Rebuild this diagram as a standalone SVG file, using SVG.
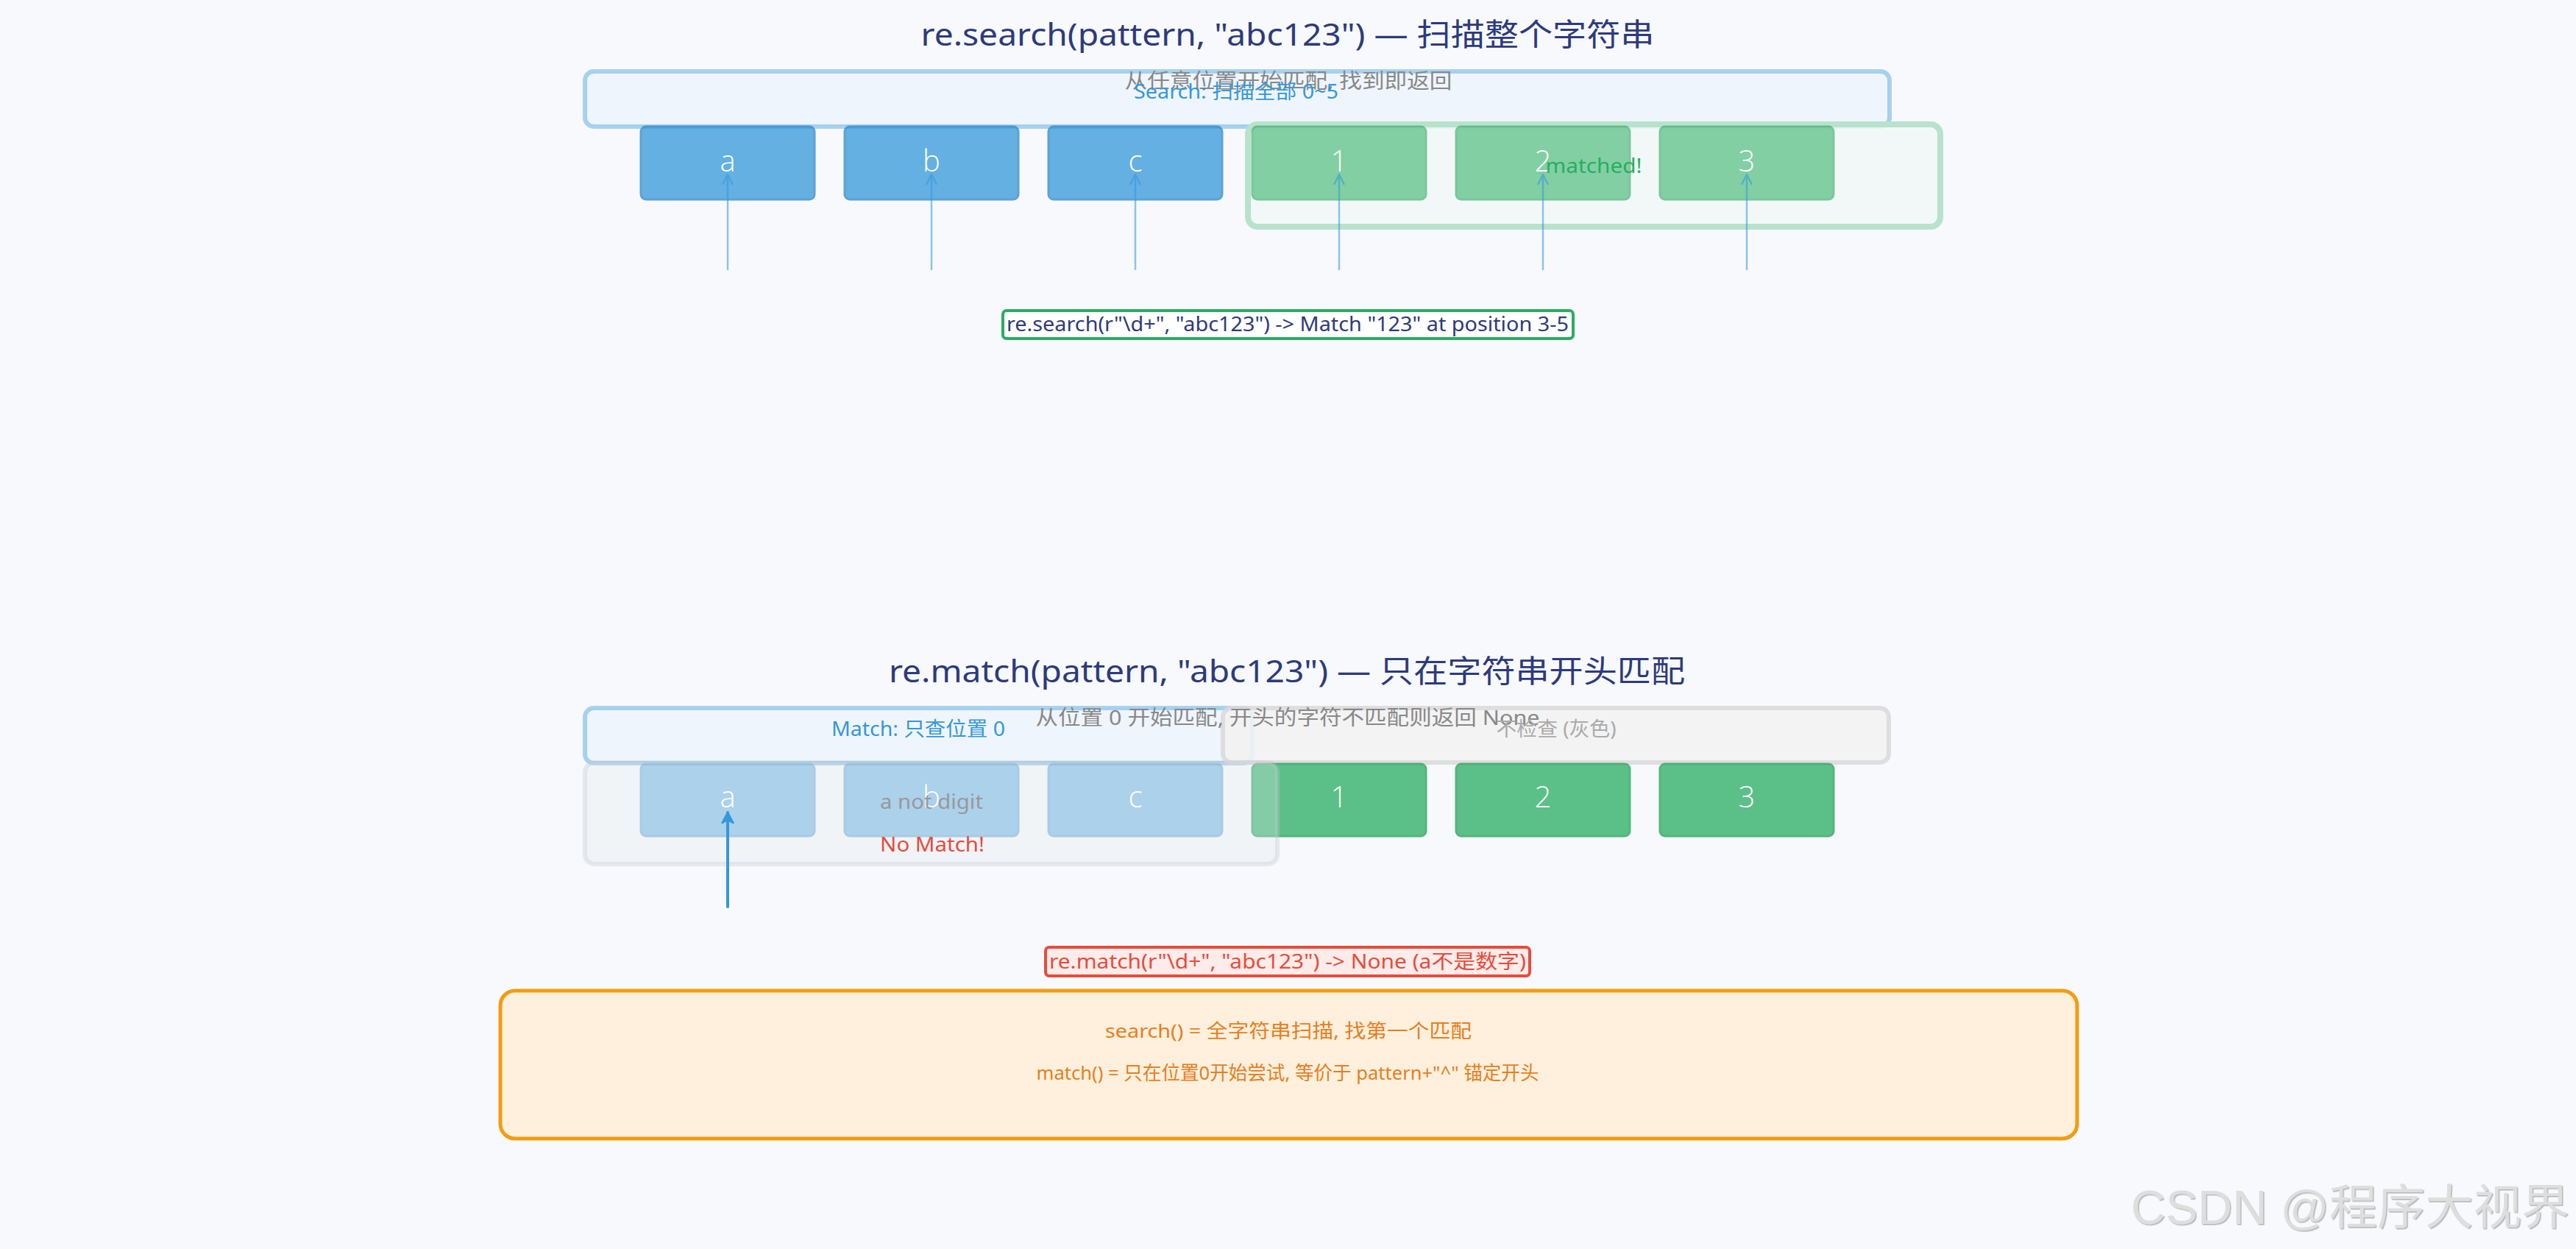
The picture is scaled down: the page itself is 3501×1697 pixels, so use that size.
<svg xmlns="http://www.w3.org/2000/svg" width="3501" height="1697" viewBox="0 0 3501 1697">
  <defs>
    <style>
      .t{font-family:"Noto Sans","Noto Sans CJK SC",sans-serif;text-anchor:middle}
      .title{font-size:42px;fill:#2d3a7c}
      .sub{font-size:28px;fill:#888888}
      .lbl-blue{font-size:27px;fill:#3498db}
      .lbl-gray{font-size:27px;fill:#aaaaaa}
      .ch{font-family:"Open Sans","Noto Sans",sans-serif;font-weight:300;font-size:40px;fill:#ffffff}
      .code{font-size:27px}
      .note{font-size:26px;fill:#e67e22}
      .band{fill:#eff5fc;stroke:#3498db;stroke-opacity:0.4;stroke-width:6}
      .cell{stroke-width:3}
      .cell-blue{fill:#3498db;stroke:#2a86c8}
      .cell-green{fill:#27ae60;stroke:#1f9d53}
    </style>
    <marker id="tip-light" markerUnits="userSpaceOnUse" markerWidth="30" markerHeight="30" viewBox="-15 -15 30 30" refX="0" refY="0" orient="auto">
      <path d="M-13,-6.5 L0,0 L-13,6.5" fill="none" stroke="#3498db" stroke-width="2.5" stroke-linecap="round" stroke-linejoin="round"/>
    </marker>
    <marker id="tip-solid" markerUnits="userSpaceOnUse" markerWidth="30" markerHeight="30" viewBox="-15 -15 30 30" refX="0" refY="0" orient="auto">
      <path d="M0,0 L-14,-7.5 L-10,0 L-14,7.5 Z" fill="#3498db" stroke="#3498db" stroke-width="2.5" stroke-linejoin="round"/>
    </marker>
    <filter id="emboss" x="-5%" y="-20%" width="110%" height="140%">
      <feDropShadow dx="1.5" dy="1.5" stdDeviation="0.6" flood-color="#9a9a9a" flood-opacity="0.7"/>
    </filter>
  </defs>

  <rect x="0" y="0" width="3501" height="1697" fill="#f7f9fc"/>

  <!-- ===== search() section ===== -->
  <g id="search-title">
    <text class="t title" x="1750" y="62" textLength="997" lengthAdjust="spacingAndGlyphs">re.search(pattern, "abc123")  — 扫描整个字符串</text>
  </g>

  <g id="search-band">
    <rect class="band" x="795" y="97" width="1773" height="75" rx="12"/>
  </g>

  <g id="matched-zone">
    <rect x="1696" y="169" width="941" height="139" rx="13" fill="#f1f8f6" fill-opacity="0.85" stroke="#b8e2cb" stroke-width="8"/>
  </g>

  <g id="search-cells">
    <g id="s-cell-a" opacity="0.75"><rect class="cell cell-blue" x="871" y="172" width="236" height="99" rx="7"/></g>
    <g id="s-cell-b" opacity="0.75"><rect class="cell cell-blue" x="1148" y="172" width="236" height="99" rx="7"/></g>
    <g id="s-cell-c" opacity="0.75"><rect class="cell cell-blue" x="1425" y="172" width="236" height="99" rx="7"/></g>
    <g id="s-cell-1" opacity="0.55"><rect class="cell cell-green" x="1702" y="172" width="236" height="99" rx="7"/></g>
    <g id="s-cell-2" opacity="0.55"><rect class="cell cell-green" x="1979" y="172" width="236" height="99" rx="7"/></g>
    <g id="s-cell-3" opacity="0.55"><rect class="cell cell-green" x="2256" y="172" width="236" height="99" rx="7"/></g>
    <text class="t ch" x="989" y="233">a</text>
    <text class="t ch" x="1266" y="233">b</text>
    <text class="t ch" x="1543" y="233">c</text>
    <text class="t ch" x="1820" y="233">1</text>
    <text class="t ch" x="2097" y="233">2</text>
    <text class="t ch" x="2374" y="233">3</text>
  </g>

  <g id="search-texts">
    <text class="t sub" x="1751" y="120" textLength="445" lengthAdjust="spacingAndGlyphs">从任意位置开始匹配, 找到即返回</text>
    <text class="t lbl-blue" x="1680" y="134" textLength="278" lengthAdjust="spacingAndGlyphs">Search: 扫描全部 0~5</text>
    <text class="t" x="2166" y="235" font-size="27" fill="#27ae60" textLength="131" lengthAdjust="spacingAndGlyphs">matched!</text>
  </g>

  <g id="search-result">
    <rect x="1363" y="422" width="775" height="38" rx="5" fill="#ffffff" stroke="#27ae60" stroke-width="4"/>
    <text class="t code" x="1750" y="450" fill="#2d3a7c" textLength="764" lengthAdjust="spacingAndGlyphs">re.search(r"\d+", "abc123")  -&gt;  Match "123" at position 3-5</text>
  </g>

  <!-- ===== match() section ===== -->
  <g id="match-title">
    <text class="t title" x="1749" y="927" textLength="1082" lengthAdjust="spacingAndGlyphs">re.match(pattern, "abc123")  — 只在字符串开头匹配</text>
  </g>

  <g id="match-band">
    <rect class="band" x="795" y="962" width="907" height="75" rx="12"/>
  </g>

  <g id="skip-band">
    <rect x="1662" y="962" width="905" height="74" rx="12" fill="#f2f2f2" fill-opacity="0.9" stroke="#d9d9d9" stroke-width="6" stroke-opacity="0.85"/>
  </g>

  <g id="match-cells">
    <g id="m-cell-a" opacity="0.5"><rect class="cell cell-blue" x="871" y="1038" width="236" height="98" rx="7"/></g>
    <g id="m-cell-b" opacity="0.5"><rect class="cell cell-blue" x="1148" y="1038" width="236" height="98" rx="7"/></g>
    <g id="m-cell-c" opacity="0.5"><rect class="cell cell-blue" x="1425" y="1038" width="236" height="98" rx="7"/></g>
    <g id="m-cell-1" opacity="0.75"><rect class="cell cell-green" x="1702" y="1038" width="236" height="98" rx="7"/></g>
    <g id="m-cell-2" opacity="0.75"><rect class="cell cell-green" x="1979" y="1038" width="236" height="98" rx="7"/></g>
    <g id="m-cell-3" opacity="0.75"><rect class="cell cell-green" x="2256" y="1038" width="236" height="98" rx="7"/></g>
  </g>

  <g id="no-match-zone">
    <rect x="795" y="1036" width="941" height="138" rx="13" fill="#e6e7ea" fill-opacity="0.3" stroke="#c4c8ce" stroke-opacity="0.35" stroke-width="6"/>
  </g>

  <g id="match-cell-text">
    <text class="t ch" x="989" y="1097">a</text>
    <text class="t ch" x="1266" y="1097">b</text>
    <text class="t ch" x="1543" y="1097">c</text>
    <text class="t ch" x="1820" y="1097">1</text>
    <text class="t ch" x="2097" y="1097">2</text>
    <text class="t ch" x="2374" y="1097">3</text>
  </g>

  <g id="match-texts">
    <text class="t sub" x="1750" y="985" textLength="685" lengthAdjust="spacingAndGlyphs">从位置 0 开始匹配, 开头的字符不匹配则返回 None</text>
    <text class="t lbl-blue" x="1248" y="1000" textLength="236" lengthAdjust="spacingAndGlyphs">Match: 只查位置 0</text>
    <text class="t lbl-gray" x="2115" y="1000" textLength="163" lengthAdjust="spacingAndGlyphs">不检查 (灰色)</text>
    <text class="t" x="1266" y="1099" font-size="28" fill="#999999" textLength="140" lengthAdjust="spacingAndGlyphs">a not digit</text>
    <text class="t" x="1267" y="1157" font-size="28" fill="#e74c3c" textLength="142" lengthAdjust="spacingAndGlyphs">No Match!</text>
  </g>

  <g id="match-result">
    <rect x="1421" y="1287" width="658" height="39" rx="5" fill="#fdecea" stroke="#e74c3c" stroke-width="4"/>
    <text class="t code" x="1750" y="1316" fill="#e74c3c" textLength="648" lengthAdjust="spacingAndGlyphs">re.match(r"\d+", "abc123")  -&gt;  None  (a不是数字)</text>
  </g>

  <g id="summary">
    <rect x="680" y="1346" width="2143" height="201" rx="20" fill="#fef0dc" stroke="#f39c12" stroke-width="5"/>
    <text class="t note" x="1751" y="1410" textLength="498" lengthAdjust="spacingAndGlyphs">search()  = 全字符串扫描, 找第一个匹配</text>
    <text class="t note" x="1750" y="1467" textLength="683" lengthAdjust="spacingAndGlyphs">match()  = 只在位置0开始尝试, 等价于 pattern+"^" 锚定开头</text>
  </g>

  <!-- ===== pointers ===== -->
  <g id="connectors">
    <g opacity="0.55" stroke="#3498db" stroke-width="2.5" fill="none">
      <path d="M989,367 L989,237" marker-end="url(#tip-light)"/>
      <path d="M1266,367 L1266,237" marker-end="url(#tip-light)"/>
      <path d="M1543,367 L1543,237" marker-end="url(#tip-light)"/>
      <path d="M1820,367 L1820,237" marker-end="url(#tip-light)"/>
      <path d="M2097,367 L2097,237" marker-end="url(#tip-light)"/>
      <path d="M2374,367 L2374,237" marker-end="url(#tip-light)"/>
    </g>
    <path d="M989,1232 L989,1104" stroke="#3498db" stroke-width="4" stroke-linecap="round" fill="none" marker-end="url(#tip-solid)"/>
  </g>

  <g id="watermark">
    <text x="2896" y="1663" font-family="'Liberation Sans','Noto Sans CJK SC',sans-serif" font-size="65" fill="#dedede" filter="url(#emboss)" textLength="596" lengthAdjust="spacingAndGlyphs">CSDN @程序大视界</text>
  </g>
</svg>
